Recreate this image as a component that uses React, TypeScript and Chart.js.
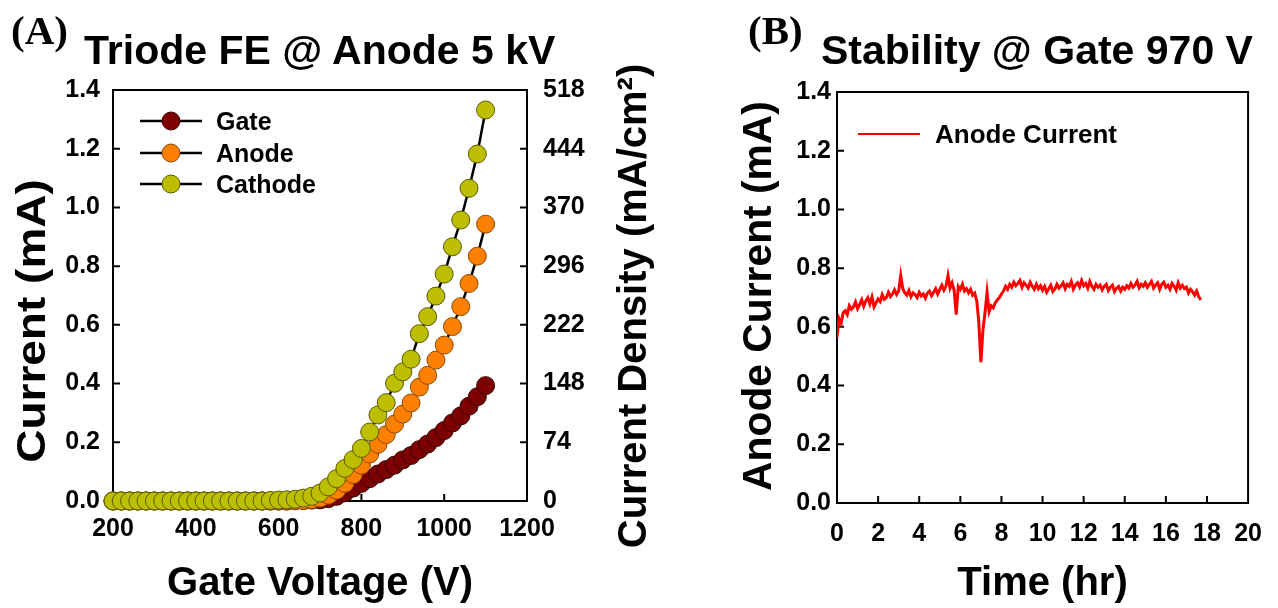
import React, { useEffect, useRef } from "react";
import { Chart, registerables } from "chart.js";

Chart.register(...registerables);

// ---------- Panel A data ----------
const GATE_VOLTAGE = [
  200, 220, 240, 260, 280, 300, 320, 340, 360, 380, 400, 420, 440, 460, 480, 500,
  520, 540, 560, 580, 600, 620, 640, 660, 680, 700, 720, 740, 760, 780, 800, 820,
  840, 860, 880, 900, 920, 940, 960, 980, 1000, 1020, 1040, 1060, 1080, 1100,
];
const GATE_CURRENT = [
  0, 0, 0, 0, 0, 0, 0, 0, 0, 0, 0, 0, 0, 0, 0, 0,
  0, 0, 0, 0, 0, 0, 0.001, 0.002, 0.003, 0.004, 0.008, 0.016, 0.028, 0.044, 0.06, 0.076,
  0.092, 0.107, 0.122, 0.14, 0.155, 0.175, 0.194, 0.216, 0.24, 0.266, 0.29, 0.323, 0.355, 0.393,
];
const ANODE_CURRENT = [
  0, 0, 0, 0, 0, 0, 0, 0, 0, 0, 0, 0, 0, 0, 0, 0,
  0, 0, 0, 0, 0, 0, 0.001, 0.002, 0.005, 0.01, 0.02, 0.037, 0.06, 0.09, 0.122, 0.16,
  0.193, 0.226, 0.262, 0.296, 0.334, 0.388, 0.428, 0.48, 0.531, 0.594, 0.662, 0.741, 0.834, 0.943,
];
const CATHODE_CURRENT = [
  0, 0, 0, 0, 0, 0, 0, 0, 0, 0, 0, 0, 0, 0, 0, 0,
  0, 0, 0, 0.002, 0.003, 0.004, 0.006, 0.01, 0.016, 0.027, 0.048, 0.076, 0.111, 0.141, 0.179, 0.235,
  0.293, 0.335, 0.401, 0.44, 0.483, 0.57, 0.628, 0.698, 0.773, 0.866, 0.957, 1.065, 1.182, 1.332,
];
const VOLTAGE_TICKS = [200, 400, 600, 800, 1000, 1200];
const CURRENT_TICKS = [0, 0.2, 0.4, 0.6, 0.8, 1.0, 1.2, 1.4];
const DENSITY_TICKS = [0, 74, 148, 222, 296, 370, 444, 518];
const SERIES_NAMES = ["Gate", "Anode", "Cathode"];
const SERIES_COLORS = ["#7d0000", "#ff8000", "#bebe00"];
const SERIES_EDGES = ["#3a0000", "#8a4a00", "#5a5a00"];

// ---------- Panel B data ----------
const TIME_STEP_HR = 0.1;
const STABILITY_CURRENT = [
  0.565, 0.628, 0.612, 0.648, 0.655, 0.642, 0.672, 0.66, 0.668, 0.685,
  0.662, 0.676, 0.692, 0.67, 0.688, 0.699, 0.678, 0.702, 0.668, 0.682,
  0.695, 0.686, 0.71, 0.694, 0.7, 0.718, 0.703, 0.712, 0.726, 0.71,
  0.722, 0.775, 0.73, 0.716, 0.708, 0.724, 0.703, 0.716, 0.71, 0.7,
  0.718, 0.705, 0.712, 0.698, 0.715, 0.722, 0.706, 0.718, 0.73, 0.712,
  0.728, 0.742, 0.725, 0.738, 0.775, 0.732, 0.75, 0.724, 0.642, 0.738,
  0.728, 0.745, 0.722, 0.73, 0.716, 0.728, 0.708, 0.715, 0.688, 0.615,
  0.48, 0.59, 0.648, 0.718, 0.652, 0.672, 0.665, 0.682, 0.692, 0.7,
  0.712, 0.722, 0.738, 0.728, 0.745, 0.735, 0.752, 0.74, 0.748, 0.758,
  0.735, 0.75, 0.742, 0.732, 0.752, 0.738, 0.728, 0.745, 0.73, 0.74,
  0.725, 0.738, 0.718, 0.73, 0.742, 0.72, 0.728, 0.745, 0.732, 0.74,
  0.75, 0.73, 0.745, 0.738, 0.755, 0.728, 0.742, 0.75, 0.736, 0.758,
  0.74, 0.748, 0.732, 0.755, 0.738, 0.728, 0.745, 0.735, 0.742, 0.726,
  0.738, 0.745, 0.724, 0.735, 0.742, 0.72, 0.732, 0.738, 0.722, 0.735,
  0.728, 0.74, 0.732, 0.748, 0.735, 0.742, 0.755, 0.733, 0.745, 0.738,
  0.75, 0.735, 0.745, 0.755, 0.732, 0.742, 0.75, 0.728, 0.745, 0.752,
  0.735, 0.742, 0.728, 0.748, 0.738, 0.725, 0.75, 0.732, 0.742, 0.73,
  0.735, 0.715, 0.728, 0.72, 0.708, 0.722, 0.702, 0.692,
];
const TIME_TICKS = [0, 2, 4, 6, 8, 10, 12, 14, 16, 18, 20];
const STAB_TICKS = [0, 0.2, 0.4, 0.6, 0.8, 1.0, 1.2, 1.4];

const SANS = '"Liberation Sans", Arial, sans-serif';
const TICK_FONT = { family: SANS, size: 25, weight: "bold" as const };

function fixTicks(values: number[]) {
  return (scale: any) => {
    scale.ticks = values.map((v) => ({ value: v }));
  };
}

function framePlugin(sides: { id: string; side: "left" | "right" | "bottom" }[]) {
  return {
    id: "frameTicks",
    beforeDatasetsDraw(chart: any) {
      const { ctx, chartArea: a } = chart;
      ctx.save();
      ctx.strokeStyle = "#000";
      ctx.lineWidth = 2;
      ctx.strokeRect(a.left, a.top, a.right - a.left, a.bottom - a.top);
      const len = 7;
      ctx.beginPath();
      for (const s of sides) {
        const scale = chart.scales[s.id];
        for (const t of scale.ticks) {
          const p = scale.getPixelForValue(t.value);
          if (s.side === "bottom") {
            if (p <= a.left + 1 || p >= a.right - 1) continue;
            ctx.moveTo(p, a.bottom);
            ctx.lineTo(p, a.bottom - len);
          } else {
            if (p <= a.top + 1 || p >= a.bottom - 1) continue;
            const x0 = s.side === "left" ? a.left : a.right;
            const dir = s.side === "left" ? 1 : -1;
            ctx.moveTo(x0, p);
            ctx.lineTo(x0 + dir * len, p);
          }
        }
      }
      ctx.stroke();
      ctx.restore();
    },
  };
}

function rotatedText(ctx: CanvasRenderingContext2D, text: string, x: number, y: number, font: string, stretch = 1) {
  ctx.save();
  ctx.translate(x, y);
  ctx.rotate(-Math.PI / 2);
  ctx.scale(stretch, 1);
  ctx.font = font;
  ctx.fillStyle = "#000";
  ctx.textAlign = "center";
  ctx.textBaseline = "alphabetic";
  ctx.fillText(text, 0, 0);
  ctx.restore();
}

const TITLE_FONT = `bold 40px ${SANS}`;
const LEGEND_FONT = `bold 25px ${SANS}`;

const panelALabels = {
  id: "panelALabels",
  afterDraw(chart: any) {
    const { ctx, chartArea: a } = chart;
    ctx.save();
    ctx.fillStyle = "#000";
    ctx.font = TITLE_FONT;
    ctx.textAlign = "center";
    ctx.textBaseline = "alphabetic";
    ctx.fillText("Gate Voltage (V)", (a.left + a.right) / 2, 595);
    rotatedText(ctx, "Current (mA)", 45, 321, TITLE_FONT, 1.15);
    rotatedText(ctx, "Current Density (mA/cm\u00B2)", 646, 306, TITLE_FONT);
    // legend
    const rows = [121, 153, 184];
    rows.forEach((y, i) => {
      ctx.strokeStyle = "#000";
      ctx.lineWidth = 2.5;
      ctx.beginPath();
      ctx.moveTo(140, y);
      ctx.lineTo(202, y);
      ctx.stroke();
      ctx.beginPath();
      ctx.arc(171, y, 9, 0, Math.PI * 2);
      ctx.fillStyle = SERIES_COLORS[i];
      ctx.fill();
      ctx.lineWidth = 1;
      ctx.strokeStyle = SERIES_EDGES[i];
      ctx.stroke();
      ctx.fillStyle = "#000";
      ctx.font = LEGEND_FONT;
      ctx.textAlign = "left";
      ctx.fillText(SERIES_NAMES[i], 216, y + 9);
    });
    ctx.restore();
  },
};

const panelBLabels = {
  id: "panelBLabels",
  afterDraw(chart: any) {
    const { ctx, chartArea: a } = chart;
    ctx.save();
    ctx.fillStyle = "#000";
    ctx.font = TITLE_FONT;
    ctx.textAlign = "center";
    ctx.textBaseline = "alphabetic";
    ctx.fillText("Time (hr)", (a.left + a.right) / 2, 595);
    rotatedText(ctx, "Anode Current (mA)", 121, 296, TITLE_FONT, 1.02);
    ctx.strokeStyle = "#ff0000";
    ctx.lineWidth = 2;
    ctx.beginPath();
    ctx.moveTo(208, 134);
    ctx.lineTo(270, 134);
    ctx.stroke();
    ctx.fillStyle = "#000";
    ctx.font = `bold 26px ${SANS}`;
    ctx.textAlign = "left";
    ctx.fillText("Anode Current", 285, 143);
    ctx.restore();
  },
};

function PanelA() {
  const ref = useRef<HTMLCanvasElement>(null);
  useEffect(() => {
    const seriesValues = [GATE_CURRENT, ANODE_CURRENT, CATHODE_CURRENT];
    const chart = new Chart(ref.current!, {
      type: "line",
      data: {
        datasets: seriesValues.map((vals, i) => ({
          label: SERIES_NAMES[i],
          data: GATE_VOLTAGE.map((v, k) => ({ x: v, y: vals[k] })),
          borderColor: "#000",
          borderWidth: 2.5,
          pointRadius: 9,
          pointBorderWidth: 1,
          pointBackgroundColor: SERIES_COLORS[i],
          pointBorderColor: SERIES_EDGES[i],
          tension: 0,
          clip: false as any,
          order: 2 - i,
        })),
      },
      options: {
        animation: false,
        responsive: false,
        devicePixelRatio: 1,
        layout: { padding: { top: 90, left: 0, right: 0, bottom: 0 } },
        plugins: { legend: { display: false }, tooltip: { enabled: false } },
        scales: {
          x: {
            type: "linear",
            min: 200,
            max: 1200,
            grid: { display: false, drawTicks: false },
            border: { display: false },
            afterBuildTicks: fixTicks(VOLTAGE_TICKS),
            afterFit: (s: any) => { s.height = 107; },
            ticks: { font: TICK_FONT, color: "#000", padding: 13, maxRotation: 0, autoSkip: false, callback: (v: any) => String(Math.round(Number(v))) },
          },
          y: {
            type: "linear",
            position: "left",
            min: 0,
            max: 1.4,
            grid: { display: false, drawTicks: false },
            border: { display: false },
            afterBuildTicks: fixTicks(CURRENT_TICKS),
            afterFit: (s: any) => { s.width = 113; },
            ticks: { font: TICK_FONT, color: "#000", padding: 13, callback: (v: any) => Number(v).toFixed(1) },
          },
          y2: {
            type: "linear",
            position: "right",
            min: 0,
            max: 518,
            grid: { display: false, drawTicks: false },
            border: { display: false },
            afterBuildTicks: fixTicks(DENSITY_TICKS),
            afterFit: (s: any) => { s.width = 133; },
            ticks: { font: TICK_FONT, color: "#000", padding: 16, callback: (v: any) => String(Math.round(Number(v))) },
          },
        },
      },
      plugins: [
        framePlugin([
          { id: "x", side: "bottom" },
          { id: "y", side: "left" },
          { id: "y2", side: "right" },
        ]),
        panelALabels,
      ],
    });
    return () => chart.destroy();
  }, []);
  return <canvas ref={ref} width={660} height={608} style={{ position: "absolute", left: 0, top: 0 }} />;
}

function PanelB() {
  const ref = useRef<HTMLCanvasElement>(null);
  useEffect(() => {
    const chart = new Chart(ref.current!, {
      type: "line",
      data: {
        datasets: [
          {
            label: "Anode Current",
            data: STABILITY_CURRENT.map((v, k) => ({ x: k * TIME_STEP_HR, y: v })),
            borderColor: "#ff0000",
            borderWidth: 3,
            pointRadius: 0,
            tension: 0,
          },
        ],
      },
      options: {
        animation: false,
        responsive: false,
        devicePixelRatio: 1,
        layout: { padding: { top: 92, left: 0, right: 25, bottom: 0 } },
        plugins: { legend: { display: false }, tooltip: { enabled: false } },
        scales: {
          x: {
            type: "linear",
            min: 0,
            max: 20,
            grid: { display: false, drawTicks: false },
            border: { display: false },
            afterBuildTicks: fixTicks(TIME_TICKS),
            afterFit: (s: any) => { s.height = 105; },
            ticks: { font: TICK_FONT, color: "#000", padding: 16, maxRotation: 0, autoSkip: false },
          },
          y: {
            type: "linear",
            position: "left",
            min: 0,
            max: 1.4,
            grid: { display: false, drawTicks: false },
            border: { display: false },
            afterBuildTicks: fixTicks(STAB_TICKS),
            afterFit: (s: any) => { s.width = 187; },
            ticks: { font: TICK_FONT, color: "#000", padding: 6, callback: (v: any) => Number(v).toFixed(1) },
          },
        },
      },
      plugins: [
        framePlugin([
          { id: "x", side: "bottom" },
          { id: "y", side: "left" },
        ]),
        panelBLabels,
      ],
    });
    return () => chart.destroy();
  }, []);
  return <canvas ref={ref} width={628} height={608} style={{ position: "absolute", left: 650, top: 0 }} />;
}

const headStyle: React.CSSProperties = {
  position: "absolute",
  whiteSpace: "nowrap",
  lineHeight: 1,
  color: "#000",
  margin: 0,
};

export default function App() {
  return (
    <div style={{ position: "fixed", left: 0, top: 0, width: 1278, height: 608, background: "#fff", overflow: "hidden" }}>
      <PanelA />
      <PanelB />
      <div style={{ ...headStyle, left: 11, top: 6, font: 'bold 41px "Liberation Serif", "Times New Roman", serif' }}>(A)</div>
      <div style={{ ...headStyle, left: 84, top: 27, font: `bold 41px ${SANS}` }}>Triode FE @ Anode 5 kV</div>
      <div style={{ ...headStyle, left: 748, top: 6, font: 'bold 41px "Liberation Serif", "Times New Roman", serif' }}>(B)</div>
      <div style={{ ...headStyle, left: 821, top: 27, font: `bold 41px ${SANS}` }}>Stability @ Gate 970 V</div>
    </div>
  );
}
